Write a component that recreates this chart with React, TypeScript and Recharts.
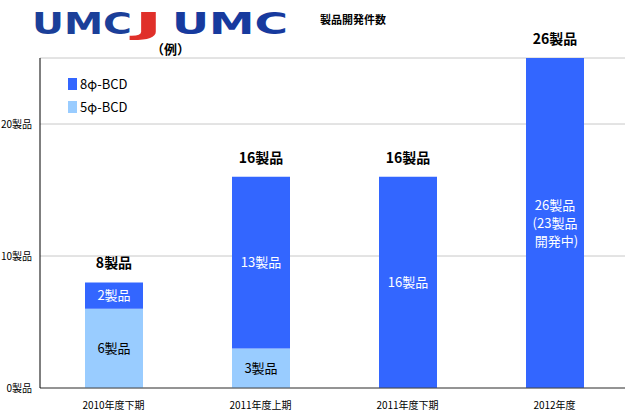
import { BarChart, Bar, XAxis, YAxis, CartesianGrid, LabelList } from "recharts";

const periods = ["2010年度下期", "2011年度上期", "2011年度下期", "2012年度"];
const bcd5 = [6, 3, 0, 0];
const bcd8 = [2, 13, 16, 26];
const totals = [8, 16, 16, 26];
const bcd5Labels = ["6製品", "3製品", "", ""];
const bcd8Labels = ["2製品", "13製品", "16製品", "26製品\n(23製品\n 開発中)"];
const yTicks = [0, 10, 20];
const seriesNames = ["8φ-BCD", "5φ-BCD"];
const seriesColors = ["#3366ff", "#99ccff"];

const data = periods.map((p, i) => ({
  name: p,
  bcd5: bcd5[i],
  bcd8: bcd8[i],
  total: totals[i],
  label5: bcd5Labels[i],
  label8: bcd8Labels[i],
}));

const FONT = "'Noto Sans CJK JP', 'Noto Sans', sans-serif";
const PLOT_TOP = 58;

const InnerLabel = (color: string) => (props: any) => {
  const { x, y, width, height, value } = props;
  if (!value) return null;
  const lines = String(value).split("\n");
  const cx = x + width / 2;
  const cy = y + height / 2;
  const lh = 18;
  const start = cy - ((lines.length - 1) * lh) / 2;
  return (
    <text textAnchor="middle" fill={color} fontSize={13} fontFamily={FONT}>
      {lines.map((l, i) => (
        <tspan key={i} x={cx} y={start + i * lh} dy="0.35em" style={{ whiteSpace: "pre" }}>
          {l}
        </tspan>
      ))}
    </text>
  );
};

const TotalLabel = (props: any) => {
  const { x, y, width, value } = props;
  return (
    <text
      x={x + width / 2}
      y={Math.max(y, PLOT_TOP) - 14}
      textAnchor="middle"
      fill="#000"
      fontSize={14}
      fontWeight="bold"
      fontFamily={FONT}
    >
      {value}製品
    </text>
  );
};

export default function App() {
  return (
    <div style={{ position: "absolute", left: 0, top: 0, width: 625, height: 412, background: "#fff", fontFamily: FONT }}>
      <BarChart
        width={625}
        height={412}
        data={data}
        margin={{ top: PLOT_TOP, right: -3, left: 0, bottom: 0 }}
        style={{ position: "absolute", left: 0, top: 0 }}
      >
        <CartesianGrid vertical={false} stroke="#c8c8c8" />
        <XAxis
          dataKey="name"
          height={24}
          tickLine={false}
          tickMargin={8}
          axisLine={{ stroke: "#444" }}
          tick={{ fontSize: 10, fill: "#000" }}
        />
        <YAxis
          width={40}
          domain={[0, 25]}
          allowDataOverflow
          ticks={yTicks}
          tickLine={false}
          axisLine={{ stroke: "#000" }}
          tick={{ fontSize: 10, fill: "#000" }}
          tickFormatter={(v) => `${v}製品`}
        />
        <Bar dataKey="bcd5" name="5φ-BCD" stackId="a" fill="#99ccff" barSize={58} isAnimationActive={false}>
          <LabelList dataKey="label5" content={InnerLabel("#000")} />
        </Bar>
        <Bar dataKey="bcd8" name="8φ-BCD" stackId="a" fill="#3366ff" barSize={58} isAnimationActive={false}>
          <LabelList dataKey="label8" content={InnerLabel("#fff")} />
          <LabelList dataKey="total" content={TotalLabel} />
        </Bar>
      </BarChart>
      {/* header logos and titles */}
      <svg width={625} height={60} style={{ position: "absolute", left: 0, top: 0 }}>
        <text x={32} y={34} textLength={100} lengthAdjust="spacingAndGlyphs" fontSize={30} fontWeight="bold" fill="#1b3f99" fontFamily="'DejaVu Sans'">
          UMC
        </text>
        <text x={134} y={34} textLength={29} lengthAdjust="spacingAndGlyphs" fontSize={30} fontWeight="bold" fill="#e0302a" fontFamily="'DejaVu Sans'">
          J
        </text>
        <text x={172} y={34} textLength={116} lengthAdjust="spacingAndGlyphs" fontSize={30} fontWeight="bold" fill="#173a9e" fontFamily="'DejaVu Sans'">
          UMC
        </text>
        <text x={320} y={24} fontSize={11} fontWeight="bold" fill="#000" fontFamily={FONT}>
          製品開発件数
        </text>
        <text x={151} y={54} fontSize={13} fontWeight="bold" fill="#000" fontFamily={FONT}>
          （例）
        </text>
      </svg>
      {/* legend */}
      <div style={{ position: "absolute", left: 68, top: 72, fontSize: 13, color: "#000" }}>
        {seriesNames.map((n, i) => (
          <div key={n} style={{ display: "flex", alignItems: "center", height: 23 }}>
            <span style={{ width: 9, height: 12, background: seriesColors[i], marginRight: 3 }} />
            <span>{n}</span>
          </div>
        ))}
      </div>
    </div>
  );
}
